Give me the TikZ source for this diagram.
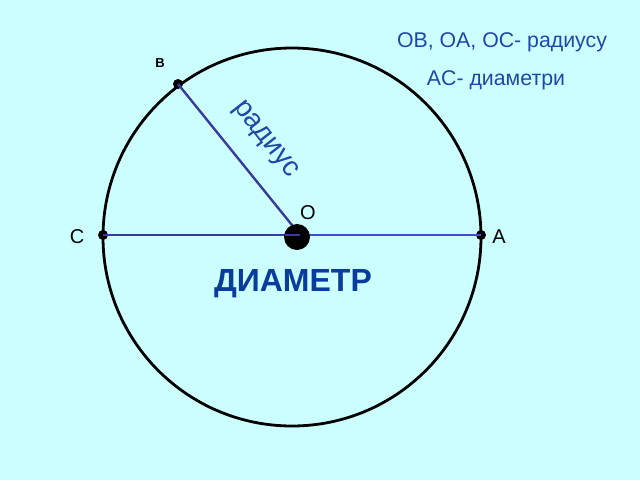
\documentclass[tikz,border=0pt]{standalone}
\usepackage{fontspec}
\setmainfont{Liberation Sans}
\definecolor{bg}{HTML}{CCFFFF}
\definecolor{txtblue}{HTML}{1F47A8}
\definecolor{radline}{HTML}{3A3A9A}
\definecolor{diamline}{HTML}{4848C8}
\definecolor{bigblue}{HTML}{0A3C9C}
\begin{document}
\begin{tikzpicture}[x=1pt,y=-1pt,
  dotpt/.style={circle,fill=black,inner sep=0pt,minimum size=10pt},
  lbl/.style={font=\fontsize{20}{20}\selectfont,text=black,inner sep=0pt},
  bluetext/.style={font=\fontsize{21.3}{21.3}\selectfont,text=txtblue,inner sep=0pt}]
\fill[bg] (0,0) rectangle (640,480);
\useasboundingbox (0,0) rectangle (640,480);
\coordinate (ctr) at (292,237);
\draw[line width=2.8pt] (ctr) circle (189);
\coordinate (Oend) at (300,235);
\node[dotpt] (C) at (103,235) {};
\node[dotpt] (A) at (481,235) {};
\node[dotpt] (B) at (178,84) {};
\draw[diamline,line width=2.6pt] (Oend) -- (A.center);
\draw[radline,line width=2.8pt] (C.center) -- (Oend);
\draw[radline,line width=2.4pt] (B.center) -- (Oend);
\node[circle,fill=black,inner sep=0pt,minimum size=26pt] (O) at (297,237) {};
\draw[radline,line width=2.4pt] (285,235) -- (Oend);
\node[lbl] (Ol) at (308,213) {O};
\node[lbl] (Cl) at (77,237) {C};
\node[lbl] (Al) at (499,237) {A};
\node[font=\bfseries\fontsize{13}{13}\selectfont,inner sep=0pt] (Bl) at (160,63) {B};
\node[font=\fontsize{28}{28}\selectfont,text=txtblue,rotate=-52,inner sep=0pt] (rad) at (265,140) {радиус};
\node[bluetext] (t1) at (502,42) {OB, OA, OC- радиусу};
\node[bluetext] (t2) at (496,80) {AC- диаметри};
\node[font=\bfseries\fontsize{32}{32}\selectfont,text=bigblue,inner sep=0pt] (dm) at (293,284) {ДИАМЕТР};
\end{tikzpicture}
\end{document}
